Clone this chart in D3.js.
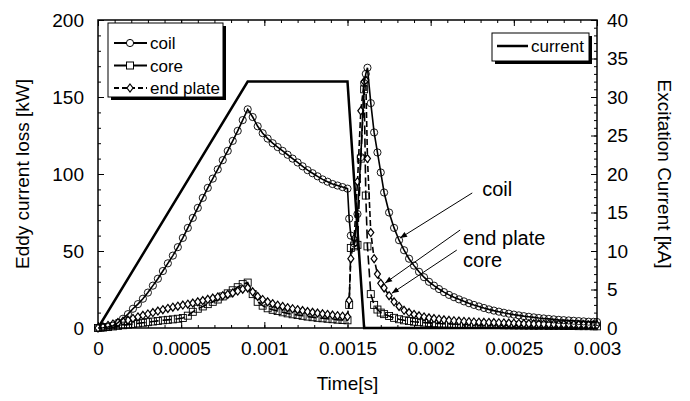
<!DOCTYPE html>
<html>
<head>
<meta charset="utf-8">
<script src="https://cdn.jsdelivr.net/npm/d3@7"></script>
<style>
  body { margin: 0; background: #fff; }
  text { font-family: "Liberation Sans", Arial, sans-serif; fill: #000; }
</style>
</head>
<body>
<div id="chart"></div>
<script>
// Time points [s] shared by the three loss series
var times = [
  0, 0.00003, 0.00006, 0.00009, 0.00012, 0.00015, 0.00018, 0.00021, 0.00024, 0.00027,
  0.0003, 0.00033, 0.00036, 0.00039, 0.00042, 0.00045, 0.00048, 0.00051, 0.00054, 0.00057,
  0.0006, 0.00063, 0.00066, 0.00069, 0.00072, 0.00075, 0.00078, 0.00081, 0.00084, 0.00087,
  0.0009, 0.00093, 0.00096, 0.00099, 0.00102, 0.00105, 0.00108, 0.00111, 0.00114, 0.00117,
  0.0012, 0.00123, 0.00126, 0.00129, 0.00132, 0.00135, 0.00138, 0.00141, 0.00144, 0.00147,
  0.0015,
  0.00151, 0.00152, 0.00154, 0.00156, 0.00158, 0.0016, 0.00161, 0.00162, 0.00164, 0.00166, 0.00168, 0.0017,
  0.00172, 0.00175, 0.00178, 0.00181, 0.00184, 0.00187, 0.0019, 0.00193, 0.00196, 0.00199,
  0.00202, 0.00205, 0.00208, 0.00211, 0.00214, 0.00217, 0.0022, 0.00223, 0.00226, 0.00229,
  0.00232, 0.00235, 0.00238, 0.00241, 0.00244, 0.00247, 0.0025, 0.00253, 0.00256, 0.00259,
  0.00262, 0.00265, 0.00268, 0.00271, 0.00274, 0.00277, 0.0028, 0.00283, 0.00286, 0.00289,
  0.00292, 0.00295, 0.00298, 0.003
];

// Eddy current loss [kW]
var coilLoss = [
  0, 0.2, 0.6, 1.5, 3.5, 6, 9, 12.5, 15.5, 19,
  23, 27.5, 32, 37, 42, 47, 52.5, 58.5, 65, 71.5,
  78, 84.5, 91, 97, 103, 109, 115, 121.5, 128, 135,
  142, 137, 131, 126.5, 123, 120, 117.5, 115, 112.5, 110,
  107.5, 105, 102.5, 100.5, 98.5, 96.5, 95, 93.5, 92.5, 91.5,
  90.5,
  71, 60, 55, 74, 111, 159, 165, 169, 146, 127, 114, 101,
  88, 75, 65, 57, 50.5, 45, 40.5, 36.5, 33, 30,
  27.5, 25.3, 23.3, 21.5, 20, 18.6, 17.3, 16.1, 15, 14,
  13, 12.1, 11.3, 10.6, 9.9, 9.3, 8.7, 8.2, 7.7, 7.3,
  6.9, 6.5, 6.2, 5.9, 5.6, 5.3, 5.1, 4.9, 4.7, 4.5,
  4.3, 4.1, 4, 3.9
];
var coreLoss = [
  0, 0.3, 0.6, 1, 1.4, 1.8, 2.2, 2.6, 3, 3.4,
  3.8, 4.2, 4.6, 5, 5.3, 5.6, 6, 6.5, 8, 10.5,
  12.5, 14, 15.5, 17, 18.5, 20.5, 22.5, 24.5, 26.5, 28.5,
  29.5, 22, 17, 14.5, 12.8, 11.8, 11, 10.2, 9.5, 8.9,
  8.4, 7.9, 7.4, 7, 6.6, 6.3, 6, 5.7, 5.4, 5.2,
  5,
  15, 52, 53, 54, 110, 155, 86, 53, 22, 15, 12, 10,
  9, 7.8, 6.6, 5.7, 5, 4.5, 4.1, 3.8, 3.5, 3.3,
  3.1, 2.9, 2.8, 2.7, 2.6, 2.5, 2.4, 2.3, 2.2, 2.1,
  2, 2, 1.9, 1.9, 1.8, 1.8, 1.7, 1.7, 1.6, 1.6,
  1.5, 1.5, 1.5, 1.4, 1.4, 1.4, 1.3, 1.3, 1.3, 1.2,
  1.2, 1.2, 1.1, 1.1
];
var endPlateLoss = [
  0, 0.8, 1.7, 2.6, 3.5, 4.4, 5.2, 6.2, 7.2, 8.2,
  9.1, 10, 11, 11.9, 12.7, 13.5, 14.2, 14.9, 15.5, 16.2,
  17, 17.8, 18.6, 19.4, 20.2, 21, 21.8, 22.8, 24, 25.2,
  26, 23.5, 20.5, 18.5, 17, 15.8, 14.8, 14, 13.2, 12.5,
  11.9, 11.3, 10.7, 10.2, 9.7, 9.2, 8.8, 8.4, 8, 7.7,
  7.4,
  18, 45, 58, 95, 141, 160, 161, 110, 62, 45, 35, 29,
  26, 21, 17, 14, 11.5, 10, 8.8, 7.9, 7.2, 6.6,
  6.1, 5.7, 5.3, 5, 4.7, 4.5, 4.3, 4.1, 3.9, 3.8,
  3.7, 3.6, 3.5, 3.4, 3.3, 3.2, 3.1, 3, 2.9, 2.8,
  2.7, 2.7, 2.6, 2.5, 2.5, 2.4, 2.4, 2.3, 2.3, 2.2,
  2.2, 2.1, 2.1, 2
];

// Excitation current [kA]
var currentTime = [0, 0.0009, 0.0015, 0.0016, 0.003];
var currentKA = [0, 32, 32, 0, 0];

// Tick labels
var xTicks = [0, 0.0005, 0.001, 0.0015, 0.002, 0.0025, 0.003];
var xTickLabels = ["0", "0.0005", "0.001", "0.0015", "0.002", "0.0025", "0.003"];
var lossTicks = [0, 50, 100, 150, 200];
var kaTicks = [0, 5, 10, 15, 20, 25, 30, 35, 40];

var w = 690, h = 401;
var plotLeft = 98, plotRight = 597, plotTop = 20, plotBottom = 328;

var svg = d3.select("#chart")
            .append("svg")
            .attr("width", w)
            .attr("height", h);

var x = d3.scaleLinear().domain([0, 0.003]).range([plotLeft, plotRight]);
var yLoss = d3.scaleLinear().domain([0, 200]).range([plotBottom, plotTop]);
var yKA = d3.scaleLinear().domain([0, 40]).range([plotBottom, plotTop]);

// arrow head for annotations
svg.append("defs").append("marker")
    .attr("id", "arrow")
    .attr("viewBox", "0 0 10 10")
    .attr("refX", 10).attr("refY", 5)
    .attr("markerWidth", 9).attr("markerHeight", 7)
    .attr("markerUnits", "userSpaceOnUse")
    .attr("orient", "auto")
    .append("path")
    .attr("d", "M0,1 L10,5 L0,9 Z")
    .attr("fill", "#000");

// Axes with inward ticks (major + minor)
function styleAxis(g) {
    g.select(".domain").remove();
    g.selectAll("line").attr("stroke", "#000").attr("stroke-width", 1);
    g.selectAll("text").style("font-size", "19px");
}
var xMinor = x.ticks(30);

svg.append("g").attr("transform", "translate(0," + plotBottom + ")")
    .call(d3.axisBottom(x).tickValues(xMinor).tickSize(-3).tickFormat(""))
    .call(styleAxis);
svg.append("g").attr("transform", "translate(0," + plotBottom + ")")
    .call(d3.axisBottom(x).tickValues(xTicks).tickSize(-6).tickPadding(14)
          .tickFormat(function(d, i){ return xTickLabels[i]; }))
    .call(styleAxis);
svg.append("g").attr("transform", "translate(0," + plotTop + ")")
    .call(d3.axisTop(x).tickValues(xMinor).tickSize(-3).tickFormat(""))
    .call(styleAxis);
svg.append("g").attr("transform", "translate(0," + plotTop + ")")
    .call(d3.axisTop(x).tickValues(xTicks).tickSize(-6).tickFormat(""))
    .call(styleAxis);

svg.append("g").attr("transform", "translate(" + plotLeft + ",0)")
    .call(d3.axisLeft(yLoss).tickValues(yLoss.ticks(20)).tickSize(-3).tickFormat(""))
    .call(styleAxis);
svg.append("g").attr("transform", "translate(" + plotLeft + ",0)")
    .call(d3.axisLeft(yLoss).tickValues(lossTicks).tickSize(-6).tickPadding(14).tickFormat(d3.format("d")))
    .call(styleAxis);

svg.append("g").attr("transform", "translate(" + plotRight + ",0)")
    .call(d3.axisRight(yKA).tickValues(yKA.ticks(40)).tickSize(-3).tickFormat(""))
    .call(styleAxis);
svg.append("g").attr("transform", "translate(" + plotRight + ",0)")
    .call(d3.axisRight(yKA).tickValues(kaTicks).tickSize(-6).tickPadding(10).tickFormat(d3.format("d")))
    .call(styleAxis);

// plot frame
svg.append("rect")
    .attr("x", plotLeft).attr("y", plotTop)
    .attr("width", plotRight - plotLeft).attr("height", plotBottom - plotTop)
    .attr("fill", "none").attr("stroke", "#000").attr("stroke-width", 1.5);

// Axis titles
svg.append("text")
    .attr("transform", "translate(29," + ((plotTop + plotBottom) / 2) + ") rotate(-90)")
    .attr("text-anchor", "middle")
    .style("font-size", "19px")
    .text("Eddy current loss [kW]");
svg.append("text")
    .attr("transform", "translate(658," + ((plotTop + plotBottom) / 2) + ") rotate(90)")
    .attr("text-anchor", "middle")
    .style("font-size", "19px")
    .text("Excitation Current [kA]");
svg.append("text")
    .attr("x", (plotLeft + plotRight) / 2).attr("y", 390)
    .attr("text-anchor", "middle")
    .style("font-size", "19px")
    .text("Time[s]");

// Build point rows from the arrays
var rows = times.map(function(t, i){
    return { t: t, coil: coilLoss[i], core: coreLoss[i], end: endPlateLoss[i] };
});
var currentRows = currentTime.map(function(t, i){ return { t: t, v: currentKA[i] }; });

var plot = svg.append("g");

// Excitation current
plot.append("path")
    .datum(currentRows)
    .attr("fill", "none")
    .attr("stroke", "#000")
    .attr("stroke-width", 2.5)
    .attr("d", d3.line().x(function(d){ return x(d.t); }).y(function(d){ return yKA(d.v); }));

function lossLine(key) {
    return d3.line().x(function(d){ return x(d.t); }).y(function(d){ return yLoss(d[key]); });
}

// core: long dashes + squares
plot.append("path").datum(rows)
    .attr("fill", "none").attr("stroke", "#000").attr("stroke-width", 1.6)
    .attr("stroke-dasharray", "9,4")
    .attr("d", lossLine("core"));
plot.selectAll(".coreMark").data(rows).enter().append("rect")
    .attr("class", "coreMark")
    .attr("x", function(d){ return x(d.t) - 3.5; })
    .attr("y", function(d){ return yLoss(d.core) - 3.5; })
    .attr("width", 7).attr("height", 7)
    .attr("fill", "none").attr("stroke", "#000").attr("stroke-width", 0.9);

// end plate: short dashes + diamonds
plot.append("path").datum(rows)
    .attr("fill", "none").attr("stroke", "#000").attr("stroke-width", 1.6)
    .attr("stroke-dasharray", "6,3")
    .attr("d", lossLine("end"));
plot.selectAll(".endMark").data(rows).enter().append("path")
    .attr("class", "endMark")
    .attr("transform", function(d){ return "translate(" + x(d.t) + "," + yLoss(d.end) + ")"; })
    .attr("d", "M0,-4 L3,0 L0,4 L-3,0 Z")
    .attr("fill", "#fff").attr("stroke", "#000").attr("stroke-width", 1.2);

// coil: solid + circles
plot.append("path").datum(rows)
    .attr("fill", "none").attr("stroke", "#000").attr("stroke-width", 1.6)
    .attr("d", lossLine("coil"));
plot.selectAll(".coilMark").data(rows).enter().append("circle")
    .attr("class", "coilMark")
    .attr("cx", function(d){ return x(d.t); })
    .attr("cy", function(d){ return yLoss(d.coil); })
    .attr("r", 3.6)
    .attr("fill", "none").attr("stroke", "#000").attr("stroke-width", 0.9);

// Annotations (text anchor + arrow tip in data units)
var notes = [
    { label: "coil",      tx: 0.00231,  tv: 85.7, fx: 0.00225,  fv: 87.7, ax: 0.001816, av: 58.4 },
    { label: "end plate", tx: 0.002195, tv: 53.9, fx: 0.002177, fv: 63.6, ax: 0.001726, av: 29.2 },
    { label: "core",      tx: 0.002195, tv: 39.6, fx: 0.002157, fv: 50.6, ax: 0.001766, av: 22.5 }
];
notes.forEach(function(n){
    svg.append("line")
        .attr("x1", x(n.fx)).attr("y1", yLoss(n.fv))
        .attr("x2", x(n.ax)).attr("y2", yLoss(n.av))
        .attr("stroke", "#000").attr("stroke-width", 1)
        .attr("marker-end", "url(#arrow)");
    svg.append("text")
        .attr("x", x(n.tx)).attr("y", yLoss(n.tv))
        .style("font-size", "20px")
        .text(n.label);
});

// Legend boxes with drop shadow
function legendBox(x0, y0, bw, bh) {
    svg.append("rect").attr("x", x0 + 3).attr("y", y0 + 3).attr("width", bw).attr("height", bh).attr("fill", "#000");
    svg.append("rect").attr("x", x0).attr("y", y0).attr("width", bw).attr("height", bh)
        .attr("fill", "#fff").attr("stroke", "#000").attr("stroke-width", 1);
}
legendBox(108, 23, 115, 74);
var legendItems = [
    { label: "coil", dash: null, mark: "circle" },
    { label: "core", dash: null, mark: "square" },
    { label: "end plate", dash: "5,3", mark: "diamond" }
];
legendItems.forEach(function(it, i){
    var ly = 43 + i * 22.5;
    svg.append("line").attr("x1", 114).attr("x2", 147).attr("y1", ly).attr("y2", ly)
        .attr("stroke", "#000").attr("stroke-width", 2)
        .attr("stroke-dasharray", it.dash);
    if (it.mark == "circle") {
        svg.append("circle").attr("cx", 130).attr("cy", ly).attr("r", 3.6)
            .attr("fill", "#fff").attr("stroke", "#000");
    } else if (it.mark == "square") {
        svg.append("rect").attr("x", 126.5).attr("y", ly - 3.5).attr("width", 7).attr("height", 7)
            .attr("fill", "#fff").attr("stroke", "#000");
    } else {
        svg.append("path").attr("transform", "translate(130," + ly + ")")
            .attr("d", "M0,-4 L3,0 L0,4 L-3,0 Z")
            .attr("fill", "#fff").attr("stroke", "#000").attr("stroke-width", 1.2);
    }
    svg.append("text").attr("x", 150).attr("y", ly + 6)
        .style("font-size", "17px")
        .text(it.label);
});

legendBox(492, 33, 97, 28);
svg.append("line").attr("x1", 497).attr("x2", 528).attr("y1", 46).attr("y2", 46)
    .attr("stroke", "#000").attr("stroke-width", 2.5);
svg.append("text").attr("x", 531).attr("y", 52)
    .style("font-size", "17px")
    .text("current");
</script>
</body>
</html>
